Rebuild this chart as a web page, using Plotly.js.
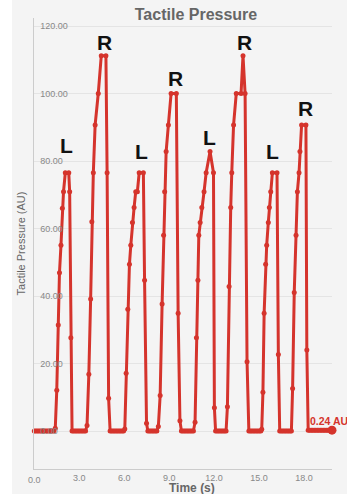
<!DOCTYPE html>
<html>
<head>
<meta charset="utf-8">
<script src="https://cdn.plot.ly/plotly-3.0.1.min.js"></script>
<style>
  html, body { margin: 0; padding: 0; background: #ffffff; }
  #chart { position: absolute; left: 12px; top: 0; width: 335px; height: 494px; }
</style>
</head>
<body>
<div id="chart"></div>
<script>
// ---- data ----
const timeSec = [
  0.0,0.1,0.2,0.3,0.4,0.5,0.6,0.7,0.8,0.9,1.0,1.1,1.2,1.3,
  1.40,1.50,1.60,1.68,1.78,1.87,1.95,2.07,2.30,2.36,2.44,2.52,
  2.62,2.72,2.82,2.92,3.02,3.12,3.22,3.32,3.42,
  3.52,3.64,3.76,3.84,3.94,4.06,4.27,4.47,4.78,4.86,4.96,5.06,
  5.16,5.26,5.36,5.46,5.56,5.66,5.76,5.86,5.96,
  6.04,6.13,6.24,6.35,6.44,6.55,6.66,6.77,6.88,7.00,7.28,7.36,7.49,7.58,
  7.68,7.78,7.88,7.98,8.08,8.18,
  8.28,8.40,8.53,8.63,8.70,8.80,8.95,9.13,9.48,9.60,9.72,9.82,
  9.92,10.02,10.12,10.22,10.32,10.42,10.52,10.62,
  10.73,10.82,10.92,10.98,11.07,11.18,11.33,11.47,11.73,11.96,12.02,12.10,
  12.20,12.30,12.40,12.50,12.60,12.70,12.80,
  12.89,13.00,13.11,13.18,13.30,13.48,13.80,13.93,14.07,14.20,14.32,
  14.42,14.52,14.62,14.72,14.82,14.92,15.02,15.12,
  15.18,15.26,15.34,15.44,15.51,15.62,15.69,15.78,15.89,16.20,16.29,16.38,
  16.48,16.58,16.68,16.78,16.88,16.98,17.08,17.16,
  17.24,17.35,17.47,17.56,17.67,17.73,17.84,18.13,18.19,18.28,
  18.38,18.48,18.58,18.68,18.78,18.88,18.98,19.08,19.18,19.28,19.38,19.48,19.58,19.68,19.78,19.87
];
const pressureAU = [
  0,0,0,0,0,0,0,0,0,0,0,0,0,0,
  0.8,12.1,31.4,46.9,55.0,66.0,70.9,76.5,76.5,70.9,27.6,0,
  0,0,0,0,0,0,0,0,0,
  1.6,16.8,39.1,62.0,76.5,90.7,100.0,111.2,111.2,76.5,9.7,0,
  0,0,0,0,0,0,0,0,0,
  0.6,17.1,36.1,49.4,55.0,61.8,66.2,70.9,70.9,76.5,76.5,44.7,2.3,0,
  0,0,0,0,0,0,
  1.3,10.5,37.6,58.0,70.9,82.8,90.7,100.0,100.0,34.9,3.0,0,
  0,0,0,0,0,0,0,0,
  2.6,27.6,44.7,58.0,61.8,66.2,70.9,76.5,82.8,76.5,6.9,0,
  0,0,0,0,0,0,0,
  7.2,42.8,66.2,76.5,90.7,100.0,100.0,111.2,100.0,20.5,0,
  0,0,0,0,0,0,0,0,
  0.5,11.5,34.9,49.4,55.0,61.8,66.2,70.9,76.5,76.5,22.7,0,
  0,0,0,0,0,0,0,0,
  12.6,41.0,58.0,70.9,76.5,82.8,90.7,90.7,24.0,0.24,
  0.24,0.24,0.24,0.24,0.24,0.24,0.24,0.24,0.24,0.24,0.24,0.24,0.24,0.24,0.24,0.24
];
const stepLabels = ["L","R","L","R","L","R","L","R"];
const stepLabelT = [2.13, 4.67, 7.13, 9.40, 11.67, 14.00, 15.93, 18.07];
const stepLabelV = [84.7, 115.0, 82.8, 104.3, 87.0, 115.0, 82.8, 95.7];
const yTicks = [0, 20, 40, 60, 80, 100, 120];
const xTicks = [0, 3, 6, 9, 12, 15, 18];
const xTickText = ["0.0", "3.0", "6.0", "9.0", "12.0", "15.0", "18.0"];
const lastValueText = "0.24 AU";

// ---- drawing ----
const red = '#d5342c';
const lastIdx = timeSec.length - 1;
const FONT = 'Liberation Sans, Arial, sans-serif';

const traces = [
  {
    x: timeSec, y: pressureAU, type: 'scatter', mode: 'lines+markers',
    line: { color: red, width: 3 },
    marker: { color: red, size: 5 },
    cliponaxis: false, hoverinfo: 'skip', showlegend: false
  },
  {
    x: [timeSec[lastIdx]], y: [pressureAU[lastIdx]], type: 'scatter', mode: 'markers',
    marker: { color: red, size: 9 },
    cliponaxis: false, hoverinfo: 'skip', showlegend: false
  }
];

const annotations = stepLabels.map((t, i) => ({
  x: stepLabelT[i], y: stepLabelV[i], xref: 'x', yref: 'y',
  text: t, showarrow: false, xanchor: 'center', yanchor: 'middle',
  font: { family: FONT, size: 21, color: '#111111', weight: 'bold' }
}));
annotations.push({
  x: 18.3, y: 3, xref: 'x', yref: 'y', text: lastValueText, showarrow: false,
  xanchor: 'left', yanchor: 'middle',
  font: { family: FONT, size: 10.5, color: red, weight: 'bold' }
});
annotations.push({
  x: (192 - 34) / 298, y: 0, xref: 'paper', yref: 'paper', yshift: -19,
  text: 'Time (s)', showarrow: false, xanchor: 'center', yanchor: 'middle',
  font: { family: FONT, size: 12, color: '#666666', weight: 'bold' }
});
// first x tick label (Plotly hides the corner label when y labels sit inside)
annotations.push({
  x: xTicks[0], y: 0, xref: 'x', yref: 'paper', yshift: -11,
  text: xTickText[0], showarrow: false, xanchor: 'center', yanchor: 'middle',
  font: { family: FONT, size: 9, color: '#888888' }
});

const layout = {
  width: 335, height: 494,
  margin: { l: 22, r: 15, t: 18, b: 25, pad: 0 },
  paper_bgcolor: '#f4f4f4', plot_bgcolor: '#f4f4f4',
  title: {
    text: 'Tactile Pressure',
    x: (196 - 34) / 298, xref: 'paper', xanchor: 'center',
    y: 1 - 14 / 494, yref: 'container', yanchor: 'middle',
    font: { family: FONT, size: 16, color: '#666666', weight: 'bold' }
  },
  xaxis: {
    range: [-0.02, 19.87], tickvals: xTicks, ticktext: xTickText,
    showgrid: false, zeroline: false, showline: true, linecolor: '#cccccc', linewidth: 1,
    ticks: '', ticklabelstandoff: 0, ticklabeloverflow: 'allow',
    tickfont: { family: FONT, size: 9, color: '#888888' }
  },
  yaxis: {
    range: [-11.26, 122.37], tickvals: yTicks, tickformat: '.2f',
    showgrid: true, gridcolor: '#e4e4e4', gridwidth: 1, zeroline: false,
    showline: true, linecolor: '#cccccc', linewidth: 1, ticks: '',
    ticklabelposition: 'inside', ticklabelstandoff: 5,
    tickfont: { family: FONT, size: 9, color: '#888888' },
    title: { text: 'Tactile Pressure (AU)', standoff: 12,
      font: { family: FONT, size: 11, color: '#666666' } }
  },
  annotations: annotations,
  showlegend: false
};

Plotly.newPlot('chart', traces, layout, { displayModeBar: false, staticPlot: true });
</script>
</body>
</html>
